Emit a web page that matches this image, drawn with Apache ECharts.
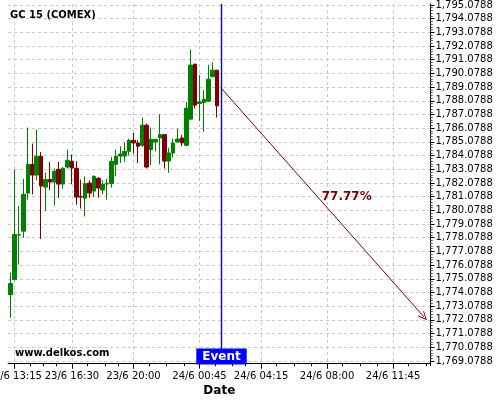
<!DOCTYPE html>
<html><head><meta charset="utf-8">
<script src="https://cdn.jsdelivr.net/npm/echarts@6/dist/echarts.min.js"></script>
<style>html,body{margin:0;padding:0;background:#fff}#c{width:500px;height:400px}</style>
</head><body><div id="c"></div>
<script>
const chartTitle = 'GC 15 (COMEX)';
const watermark = 'www.delkos.com';
const xAxisName = 'Date';
const eventText = 'Event';
const pctText = '77.77%';

// 15-minute slots, 23/6 13:00 onward (market pause 23:00-00:00 skipped)
const categories = [];
(function () {
  const pad = n => (n < 10 ? '0' : '') + n;
  let d = 23, h = 13, m = 0;
  for (let i = 0; i < 96; i++) {
    categories.push(d + '/6 ' + pad(h) + ':' + pad(m));
    m += 15; if (m === 60) { m = 0; h++; }
    if (d === 23 && h === 23) { h = 0; d = 24; }
  }
})();

const tickLabels = ['23/6 13:15', '23/6 16:30', '23/6 20:00', '24/6 00:45', '24/6 04:15', '24/6 08:00', '24/6 11:45'];

const open  = [1773.92,1775.02,1778.28,1778.56,1781.34,1783.44,1782.66,1784.03,1781.78,1782.34,1782.15,1783.08,1782.00,1783.24,1783.66,1783.15,1781.10,1780.97,1782.07,1781.49,1782.42,1781.56,1782.01,1782.03,1783.44,1784.05,1784.05,1784.39,1785.20,1785.00,1784.83,1786.30,1784.52,1785.07,1785.37,1785.61,1783.68,1784.27,1785.07,1785.37,1784.83,1786.74,1790.76,1787.88,1787.96,1788.05,1789.83,1790.32];
const close = [1774.73,1778.32,1778.30,1781.25,1783.44,1782.66,1784.03,1781.85,1782.34,1782.15,1782.93,1782.00,1783.15,1783.73,1783.17,1781.05,1781.05,1782.03,1781.34,1782.56,1781.71,1781.98,1782.03,1783.66,1784.03,1784.19,1784.39,1785.20,1785.00,1784.76,1786.30,1783.24,1785.27,1785.27,1785.61,1783.68,1784.27,1785.00,1785.29,1785.00,1787.54,1790.69,1787.76,1788.00,1788.20,1789.66,1790.32,1787.71];
const low   = [1772.24,1775.02,1776.12,1778.07,1780.86,1781.25,1782.27,1778.00,1780.02,1781.54,1780.44,1781.00,1781.66,1783.13,1781.98,1780.49,1780.20,1779.63,1781.00,1781.05,1781.00,1781.25,1780.86,1781.73,1782.56,1783.54,1783.61,1784.10,1784.22,1783.54,1784.71,1783.13,1783.37,1784.39,1783.44,1783.13,1782.83,1783.93,1785.07,1784.76,1784.76,1786.74,1787.52,1786.61,1785.81,1788.00,1789.83,1786.86];
const high  = [1775.53,1783.05,1780.39,1782.39,1786.13,1784.96,1785.98,1784.34,1782.83,1783.61,1783.13,1783.61,1783.24,1784.52,1784.15,1783.68,1782.32,1782.56,1782.27,1782.64,1782.51,1782.27,1782.39,1783.98,1784.52,1784.76,1785.03,1785.32,1785.73,1785.20,1786.86,1786.42,1786.13,1785.27,1787.10,1785.61,1784.66,1785.32,1786.05,1785.61,1788.00,1791.84,1790.76,1789.96,1788.86,1790.69,1790.89,1790.32];

const yTicks = [1769.0788,1770.0788,1771.0788,1772.0788,1773.0788,1774.0788,1775.0788,1776.0788,1777.0788,1778.0788,1779.0788,1780.0788,1781.0788,1782.0788,1783.0788,1784.0788,1785.0788,1786.0788,1787.0788,1788.0788,1789.0788,1790.0788,1791.0788,1792.0788,1793.0788,1794.0788,1795.0788];
const yMin = 1768.88, yMax = 1795.15;

const eventIndex = 48;
const arrowStart = [48, 1788.98];
const arrowEnd = [94, 1772.3];
const pctPos = [76, 1781.05];
const eventLabelPos = [48, 1769.40];

const FONT = 'DejaVu Sans';
const labelIdx = tickLabels.map(t => categories.indexOf(t));
const minorIdx = [];
for (let k = 0; k < labelIdx.length; k++) {
  const a = labelIdx[k];
  const b = k + 1 < labelIdx.length ? labelIdx[k + 1] : a + 15;
  for (let q = 1; q < 4; q++) minorIdx.push(Math.round(a + (b - a) * q / 4 + 0.5));
}
const isLabel = (i, v) => tickLabels.indexOf(v) >= 0;
const isMinor = (i) => minorIdx.indexOf(i) >= 0;

// minor y ticks: 5 subdivisions per labelled step
const yMinor = [];
yTicks.forEach(t => { for (let q = -4; q < 5; q++) { if (q) yMinor.push(+(t + q * 0.2).toFixed(4)); } });

function fmt(v) {
  const s = v.toFixed(4).split('.');
  return s[0].replace(/\B(?=(\d{3})+(?!\d))/g, ',') + '.' + s[1];
}

const candles = open.map((o, i) => [o, close[i], low[i], high[i]]);
const gridCol = '#c8c8c8';
const G = { left: 8.1, top: 4, width: 422.4, height: 359.7 };

const option = {
  animation: false,
  backgroundColor: '#ffffff',
  title: [
    { text: chartTitle, left: 10, top: 10, padding: 0, textStyle: { fontFamily: FONT, fontSize: 10, fontWeight: 'bold', color: '#000' } },
    { text: watermark, left: 15, top: 348, padding: 0, textStyle: { fontFamily: FONT, fontSize: 10, fontWeight: 'bold', color: '#000' } }
  ],
  grid: Object.assign({ containLabel: false, outerBoundsMode: 'none' }, G),
  xAxis: [
    {
      type: 'category', data: categories, boundaryGap: true,
      name: xAxisName, nameLocation: 'middle', nameGap: 21, nameMoveOverlap: false,
      nameTextStyle: { fontFamily: FONT, fontSize: 12, fontWeight: 'bold', color: '#000' },
      axisLine: { lineStyle: { color: '#000', width: 1 } },
      axisTick: { show: true, alignWithLabel: true, length: 5, interval: isLabel, lineStyle: { color: '#000' } },
      axisLabel: { interval: isLabel, margin: 8, fontFamily: FONT, fontSize: 10, color: '#000', hideOverlap: false },
      splitLine: { show: true, interval: isLabel, alignWithLabel: true, lineStyle: { color: gridCol, type: [3, 3], width: 1 } }
    },
    {
      type: 'category', data: categories, boundaryGap: true, position: 'bottom',
      axisLine: { show: false },
      axisTick: { show: true, alignWithLabel: false, length: 2.5, interval: isMinor, lineStyle: { color: '#000' } },
      axisLabel: { show: false }, splitLine: { show: false }
    }
  ],
  yAxis: [
    {
      type: 'value', position: 'right', min: yMin, max: yMax, scale: true,
      axisLine: { show: true, lineStyle: { color: '#000', width: 1 } },
      axisTick: { show: true, customValues: yTicks, length: 4, lineStyle: { color: '#000' } },
      axisLabel: { customValues: yTicks, formatter: fmt, margin: 5, fontFamily: FONT, fontSize: 10, color: '#000' },
      splitLine: { show: true, lineStyle: { color: gridCol, type: [3, 3], width: 1 } }
    },
    {
      type: 'value', position: 'right', min: yMin, max: yMax, scale: true,
      axisLine: { show: false },
      axisTick: { show: true, customValues: yMinor, length: 2, lineStyle: { color: '#555' } },
      axisLabel: { show: false }, splitLine: { show: false }
    }
  ],
  series: [
    {
      type: 'candlestick', data: candles, barWidth: 4,
      itemStyle: { color: '#008000', color0: '#800000', borderColor: '#008000', borderColor0: '#800000', borderWidth: 1 },
      z: 3
    },
    {
      type: 'scatter', data: [pctPos], symbolSize: 1, itemStyle: { color: 'transparent', opacity: 1 },
      label: { show: true, formatter: pctText, position: 'inside', offset: [2, 0], color: '#800000', opacity: 1, fontFamily: FONT, fontSize: 12, fontWeight: 'bold' },
      markLine: {
        silent: true,
        symbol: ['none', 'path://M0,10 L5,0 L10,10 L8.8,10 L5,2.4 L1.2,10 Z'],
        symbolSize: [8, 9],
        label: { show: false },
        lineStyle: { color: '#800000', width: 1, type: 'solid', opacity: 1 },
        data: [[{ coord: arrowStart }, { coord: arrowEnd }]]
      },
      z: 4
    },
    {
      type: 'scatter', data: [eventLabelPos], symbolSize: 1, itemStyle: { color: '#0000ff', opacity: 0 },
      label: { show: true, formatter: eventText, position: 'inside', backgroundColor: '#0000ff', color: '#fff', opacity: 1, fontFamily: FONT, fontSize: 12, fontWeight: 'bold', padding: [2, 6, 1, 6], lineHeight: 13 },
      markLine: {
        silent: true, symbol: ['none', 'none'], label: { show: false },
        lineStyle: { color: '#0000ff', width: 1.4, type: 'solid', opacity: 1 },
        emphasis: { disabled: true },
        data: [{ xAxis: eventIndex, lineStyle: { color: '#0000ff', width: 1.4, opacity: 1 } }]
      },
      z: 10
    }
  ]
};
const chart = echarts.init(document.getElementById('c'), null, { renderer: 'canvas' });
chart.setOption(option);
</script></body></html>
